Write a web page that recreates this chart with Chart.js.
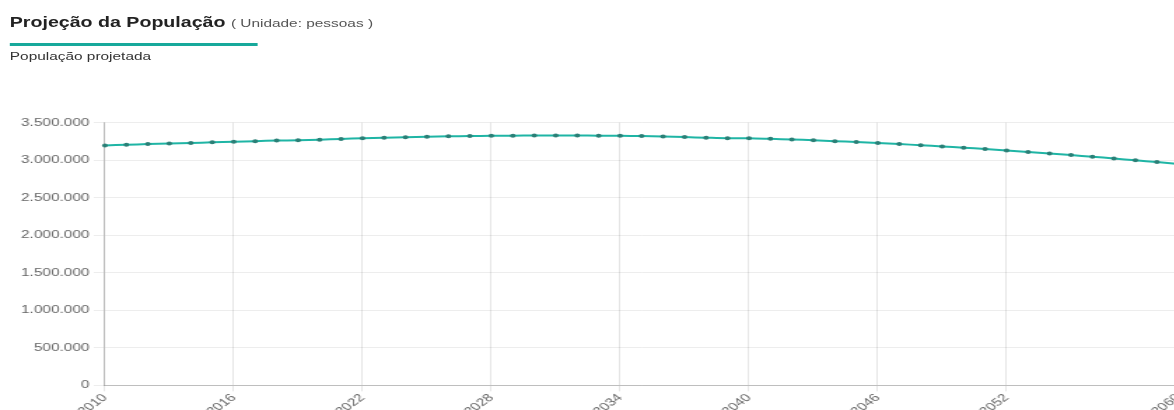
<!DOCTYPE html>
<html>
<head>
<meta charset="utf-8">
<script src="https://cdn.jsdelivr.net/npm/chart.js@4/dist/chart.umd.min.js"></script>
<style>
  html, body { margin: 0; padding: 0; background: #fff; overflow: hidden; width: 1174px; height: 410px; }
  #page { position: absolute; left: 0; top: 0; width: 852px; height: 410px; transform: scaleX(1.4); transform-origin: 0 0; font-family: "Liberation Sans", Arial, sans-serif; }
  #title { position: absolute; left: 7px; top: 14px; font-size: 14px; font-weight: bold; color: #222; white-space: nowrap; }
  #title span { font-size: 11px; font-weight: normal; color: #555; }
  #bar { position: absolute; left: 7px; top: 43px; width: 177px; height: 3px; background: #17a99b; }
  #sub { position: absolute; left: 7px; top: 50px; font-size: 11px; color: #333; white-space: nowrap; }
  #wrap { position: absolute; left: 0; top: 113px; width: 851px; height: 305px; }
</style>
</head>
<body>
<div id="page">
  <div id="title">Projeção da População <span>( Unidade: pessoas )</span></div>
  <div id="bar"></div>
  <div id="sub">População projetada</div>
  <div id="wrap"><canvas id="c"></canvas></div>
</div>
<script>
var years = [2010, 2011, 2012, 2013, 2014, 2015, 2016, 2017, 2018, 2019,
             2020, 2021, 2022, 2023, 2024, 2025, 2026, 2027, 2028, 2029,
             2030, 2031, 2032, 2033, 2034, 2035, 2036, 2037, 2038, 2039,
             2040, 2041, 2042, 2043, 2044, 2045, 2046, 2047, 2048, 2049,
             2050, 2051, 2052, 2053, 2054, 2055, 2056, 2057, 2058, 2059, 2060];

var population = [3195000, 3205000, 3214000, 3222000, 3229000, 3237000, 3245000, 3253000, 3260000, 3266000,
                  3272000, 3282000, 3291000, 3299000, 3306000, 3312000, 3317000, 3321000, 3324000, 3326000,
                  3328000, 3328000, 3327000, 3326000, 3324000, 3320000, 3314000, 3307000, 3299000, 3292000,
                  3292000, 3284000, 3275000, 3265000, 3253000, 3241000, 3228000, 3214000, 3199000, 3183000,
                  3166000, 3148000, 3129000, 3109000, 3088000, 3067000, 3045000, 3022000, 2998000, 2974000, 2950000];

var yTicks = { min: 0, max: 3500000, step: 500000 };
var labelEvery = 6;

var fmt = function (n) {
    return String(n).replace(/\B(?=(\d{3})+(?!\d))/g, '.');
};

Chart.defaults.font.family = '"Liberation Sans", Arial, sans-serif';
Chart.defaults.font.size = 11;
Chart.defaults.color = '#666';

new Chart(document.getElementById('c'), {
    type: 'line',
    data: {
        labels: years,
        datasets: [{
            label: 'População projetada',
            data: population,
            borderColor: '#1fb5a5',
            borderWidth: 2,
            backgroundColor: '#2b7f76',
            pointBackgroundColor: '#2b7f76',
            pointBorderColor: '#2b7f76',
            pointRadius: 2,
            pointBorderWidth: 0,
            tension: 0.3,
            fill: false
        }]
    },
    options: {
        responsive: true,
        maintainAspectRatio: false,
        animation: false,
        layout: { padding: { left: 12, right: 0, top: 0, bottom: 0 } },
        plugins: { legend: { display: false }, tooltip: { enabled: false } },
        scales: {
            x: {
                grid: { color: 'rgba(0,0,0,0.1)', tickLength: 6 },
                border: { color: 'rgba(0,0,0,0.2)' },
                ticks: {
                    autoSkip: false,
                    minRotation: 45,
                    maxRotation: 45,
                    padding: 0,
                    callback: function (value, index) {
                        var last = years.length - 1;
                        if (index === last) return this.getLabelForValue(value);
                        if (index % labelEvery === 0 && index + labelEvery < years.length) return this.getLabelForValue(value);
                        return null;
                    }
                }
            },
            y: {
                min: yTicks.min,
                max: yTicks.max,
                grid: { color: 'rgba(0,0,0,0.07)' },
                border: { color: 'rgba(0,0,0,0.2)' },
                ticks: {
                    stepSize: yTicks.step,
                    callback: function (v) { return fmt(v); }
                }
            }
        }
    }
});
</script>
</body>
</html>
